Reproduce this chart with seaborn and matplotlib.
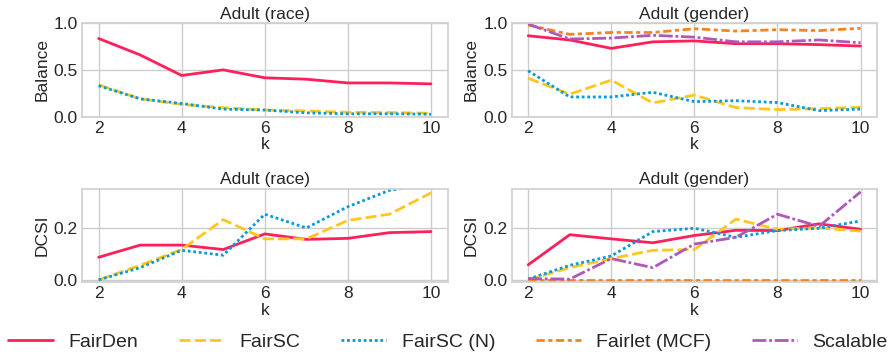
import numpy as np
import pandas as pd
import matplotlib
matplotlib.use("Agg")
import matplotlib.pyplot as plt
import seaborn as sns

k_values = [2, 3, 4, 5, 6, 7, 8, 9, 10]
methods = ["FairDen", "FairSC", "FairSC (N)", "Fairlet (MCF)", "Scalable"]

# Balance, Adult (race)
bal_race_fairden = [0.836, 0.66, 0.44, 0.50, 0.415, 0.40, 0.36, 0.36, 0.35]
bal_race_fairsc = [0.34, 0.19, 0.13, 0.095, 0.07, 0.06, 0.046, 0.043, 0.036]
bal_race_fairsc_n = [0.33, 0.19, 0.14, 0.08, 0.07, 0.04, 0.03, 0.03, 0.025]

# Balance, Adult (gender)
bal_gender_fairden = [0.865, 0.82, 0.73, 0.80, 0.81, 0.78, 0.78, 0.77, 0.755]
bal_gender_fairsc = [0.41, 0.24, 0.39, 0.146, 0.23, 0.096, 0.075, 0.085, 0.10]
bal_gender_fairsc_n = [0.49, 0.21, 0.21, 0.26, 0.16, 0.17, 0.15, 0.064, 0.08]
bal_gender_fairlet = [0.98, 0.88, 0.90, 0.90, 0.94, 0.915, 0.93, 0.92, 0.945]
bal_gender_scalable = [0.99, 0.83, 0.84, 0.87, 0.85, 0.80, 0.80, 0.82, 0.79]

# DCSI, Adult (race)
dcsi_race_fairden = [0.087, 0.134, 0.134, 0.117, 0.177, 0.156, 0.16, 0.182, 0.186]
dcsi_race_fairsc = [0.0, 0.056, 0.117, 0.232, 0.158, 0.158, 0.229, 0.253, 0.335]
dcsi_race_fairsc_n = [0.0, 0.047, 0.114, 0.095, 0.253, 0.20, 0.282, 0.345, 0.37]

# DCSI, Adult (gender)
dcsi_gender_fairden = [0.058, 0.174, 0.158, 0.143, 0.171, 0.191, 0.19, 0.216, 0.195]
dcsi_gender_fairsc = [0.0, 0.047, 0.082, 0.114, 0.117, 0.234, 0.195, 0.20, 0.188]
dcsi_gender_fairsc_n = [0.003, 0.056, 0.092, 0.186, 0.199, 0.164, 0.19, 0.199, 0.227]
dcsi_gender_fairlet = [0.0, 0.0, 0.0, 0.0, 0.0, 0.0, 0.0, 0.0, 0.0]
dcsi_gender_scalable = [0.005, 0.003, 0.082, 0.047, 0.138, 0.164, 0.253, 0.206, 0.339]

cores = {
    "FairDen": "#ff1f5b",
    "FairSC": "#ffc61e",
    "FairSC (N)": "#009ade",
    "Fairlet (MCF)": "#f28522",
    "Scalable": "#af58ba",
}
tracos = {
    "FairDen": "",
    "FairSC": (4, 1.5),
    "FairSC (N)": (1, 1),
    "Fairlet (MCF)": (3, 1.25, 1.5, 1.25),
    "Scalable": (5, 1, 1, 1),
}


def montar_tabela(series):
    linhas = []
    for metodo, valores in series.items():
        for k, v in zip(k_values, valores):
            linhas.append({"k": k, "valor": v, "metodo": metodo})
    return pd.DataFrame(linhas)


paineis = [
    ("Adult (race)", "Balance", {
        "FairDen": bal_race_fairden,
        "FairSC": bal_race_fairsc,
        "FairSC (N)": bal_race_fairsc_n,
    }),
    ("Adult (gender)", "Balance", {
        "FairDen": bal_gender_fairden,
        "FairSC": bal_gender_fairsc,
        "FairSC (N)": bal_gender_fairsc_n,
        "Fairlet (MCF)": bal_gender_fairlet,
        "Scalable": bal_gender_scalable,
    }),
    ("Adult (race)", "DCSI", {
        "FairDen": dcsi_race_fairden,
        "FairSC": dcsi_race_fairsc,
        "FairSC (N)": dcsi_race_fairsc_n,
    }),
    ("Adult (gender)", "DCSI", {
        "FairDen": dcsi_gender_fairden,
        "FairSC": dcsi_gender_fairsc,
        "FairSC (N)": dcsi_gender_fairsc_n,
        "Fairlet (MCF)": dcsi_gender_fairlet,
        "Scalable": dcsi_gender_scalable,
    }),
]

sns.set_theme(style="whitegrid")
plt.rcParams["font.family"] = ["Liberation Sans", "DejaVu Sans"]

fig, axes = plt.subplots(2, 2, figsize=(8.96, 3.56), dpi=100)
fig.subplots_adjust(left=0.0915, right=0.979, top=0.935, bottom=0.208,
                    wspace=0.175, hspace=0.77)

for ax, (titulo, metrica, series) in zip(axes.flat, paineis):
    tabela = montar_tabela(series)
    ordem = [m for m in methods if m in series]
    sns.lineplot(
        data=tabela, x="k", y="valor", hue="metodo", style="metodo",
        hue_order=ordem, style_order=ordem,
        palette={m: cores[m] for m in ordem},
        dashes={m: tracos[m] for m in ordem},
        linewidth=2, ax=ax, legend=True
    )
    ax.set_title(titulo, fontsize=12.5, pad=3)
    ax.set_xlabel("k", fontsize=12.5, labelpad=1)
    ax.set_ylabel(metrica, fontsize=12.5, labelpad=3)
    ax.set_xticks([2, 4, 6, 8, 10])
    ax.tick_params(labelsize=12.5, length=0, pad=3)
    if metrica == "Balance":
        ax.set_ylim(0, 1)
        ax.set_yticks([0.0, 0.5, 1.0])
    else:
        ax.set_ylim(-0.008, 0.352)
        ax.set_yticks([0.0, 0.2])
    ax.set_yticklabels([f"{t:.1f}" for t in ax.get_yticks()])
    for spine in ax.spines.values():
        spine.set_color("#d0d0d0")

handles, labels = axes[0, 1].get_legend_handles_labels()
for ax in axes.flat:
    ax.get_legend().remove()

fig.legend(handles, labels, loc="center", bbox_to_anchor=(0.5, 14 / 356),
           ncol=5, frameon=False, fontsize=14, handlelength=2.3,
           columnspacing=2.1, handletextpad=0.8)

fig.savefig("out.png", dpi=100)
